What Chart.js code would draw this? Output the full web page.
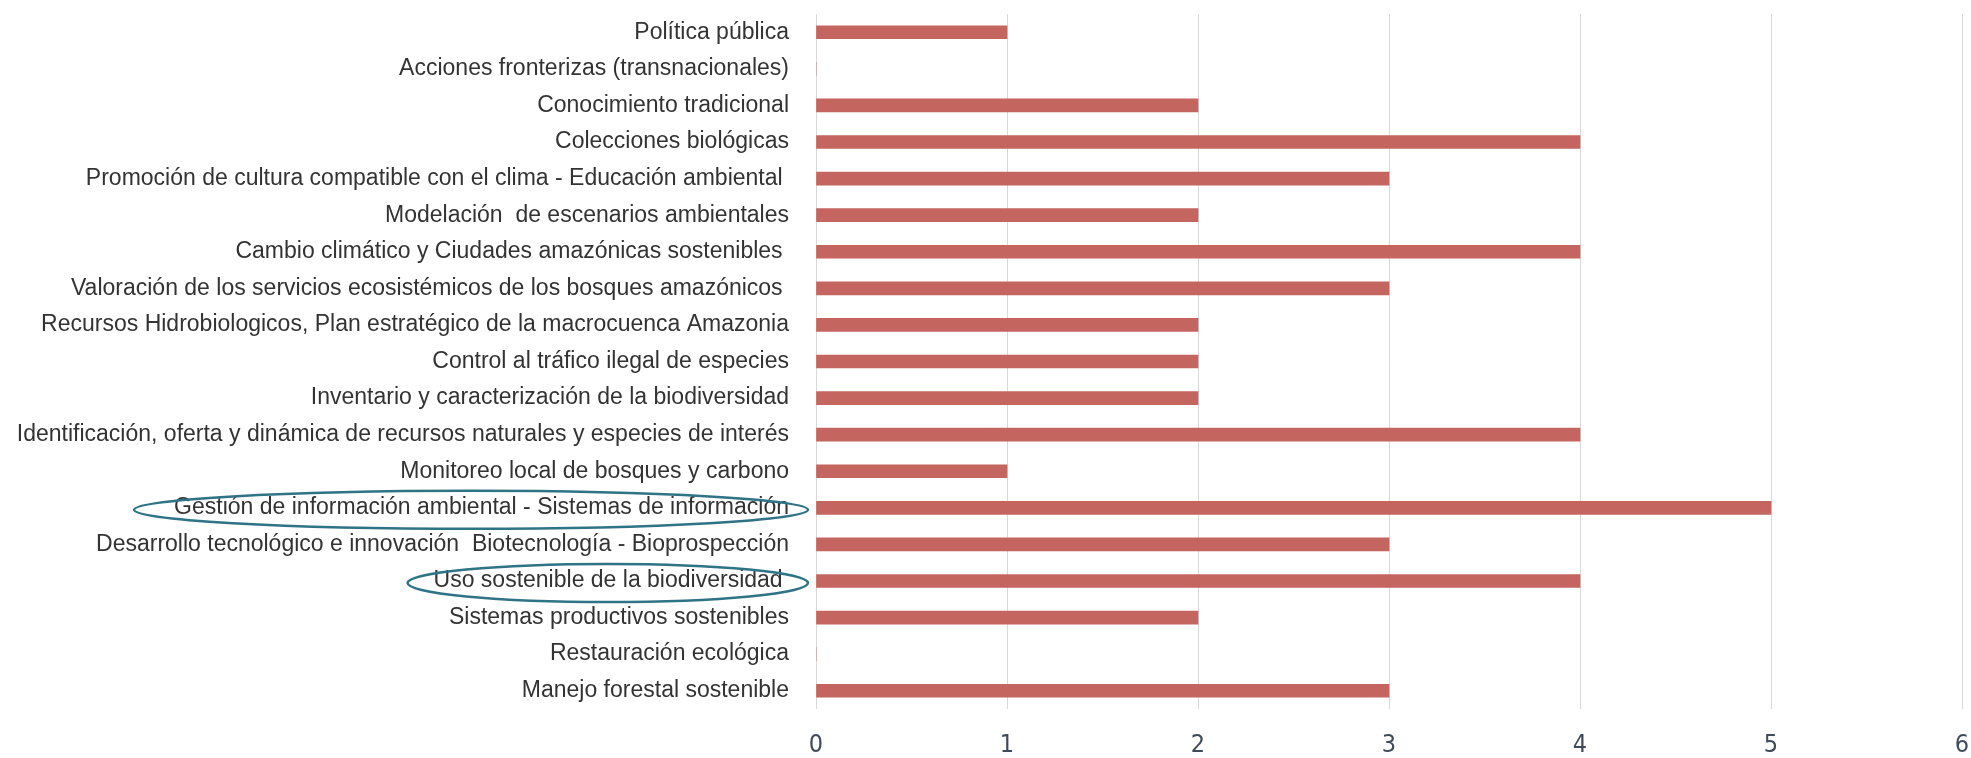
<!DOCTYPE html>
<html>
<head>
<meta charset="utf-8">
<script src="https://cdn.jsdelivr.net/npm/chart.js@4"></script>
<style>
  html, body { margin: 0; padding: 0; background: #fff; }
  canvas { display: block; }
</style>
</head>
<body>
<canvas id="chart" width="1971" height="758"></canvas>
<script>
// categories, top to bottom as in the original
const categories = [
  'Política pública',
  'Acciones fronterizas (transnacionales)',
  'Conocimiento tradicional',
  'Colecciones biológicas',
  'Promoción de cultura compatible con el clima - Educación ambiental ',
  'Modelación  de escenarios ambientales',
  'Cambio climático y Ciudades amazónicas sostenibles ',
  'Valoración de los servicios ecosistémicos de los bosques amazónicos ',
  'Recursos Hidrobiologicos, Plan estratégico de la macrocuenca Amazonia',
  'Control al tráfico ilegal de especies',
  'Inventario y caracterización de la biodiversidad',
  'Identificación, oferta y dinámica de recursos naturales y especies de interés',
  'Monitoreo local de bosques y carbono',
  'Gestión de información ambiental - Sistemas de información',
  'Desarrollo tecnológico e innovación  Biotecnología - Bioprospección',
  'Uso sostenible de la biodiversidad ',
  'Sistemas productivos sostenibles',
  'Restauración ecológica',
  'Manejo forestal sostenible'
];
const values = [1, 0, 2, 4, 3, 2, 4, 3, 2, 2, 2, 4, 1, 5, 3, 4, 2, 0, 3];

const xMin = 0;
const xMax = 6;

// labels circled in the original
const circled = [
  'Gestión de información ambiental - Sistemas de información',
  'Uso sostenible de la biodiversidad '
];

const labelFont = { family: "'Liberation Sans', Arial, sans-serif", size: 23 };
const labelPad = 27;

// draws the hand-drawn ellipses around the circled labels
const circlePlugin = {
  id: 'circles',
  afterDraw(chart) {
    const ctx = chart.ctx;
    const y = chart.scales.y;
    ctx.save();
    ctx.font = labelFont.size + 'px ' + labelFont.family;
    ctx.strokeStyle = '#2f7386';
    ctx.lineWidth = 2.5;
    circled.forEach(function(label, k) {
      const i = categories.indexOf(label);
      const cy = y.getPixelForValue(i) + 2;
      const textRight = y.right - labelPad;
      const textLeft = textRight - ctx.measureText(label).width;
      const left = textLeft - (k === 0 ? 40 : 26);
      const right = y.right - 8;
      ctx.beginPath();
      ctx.ellipse((left + right) / 2, cy, (right - left) / 2, 19, 0, 0, Math.PI * 2);
      ctx.stroke();
    });
    ctx.restore();
  }
};

function noPadding(scale) {
  scale.paddingTop = 0;
  scale.paddingBottom = 0;
  scale.paddingLeft = 0;
  scale.paddingRight = 0;
}

new Chart(document.getElementById('chart'), {
  type: 'bar',
  data: {
    labels: categories,
    datasets: [{
      data: values,
      backgroundColor: '#c5655f',
      borderWidth: 0,
      barThickness: 13
    }]
  },
  options: {
    indexAxis: 'y',
    responsive: false,
    devicePixelRatio: 1,
    animation: false,
    layout: { padding: { top: 14, right: 9, left: 0, bottom: 0 } },
    plugins: {
      legend: { display: false },
      tooltip: { enabled: false }
    },
    scales: {
      x: {
        min: xMin,
        max: xMax,
        ticks: {
          stepSize: 1,
          color: '#404b5a',
          padding: 21,
          font: { family: "'Liberation Sans Narrow', 'DejaVu Sans Condensed', sans-serif", size: 25 }
        },
        grid: { color: '#d9d9d9', lineWidth: 1, drawTicks: false },
        border: { display: false },
        afterFit: function(scale) { scale.height = 49; noPadding(scale); }
      },
      y: {
        ticks: {
          color: '#333333',
          padding: labelPad,
          autoSkip: false,
          font: labelFont
        },
        grid: { display: false, drawTicks: false },
        border: { display: false },
        afterFit: function(scale) { scale.width = 816; noPadding(scale); }
      }
    }
  },
  plugins: [circlePlugin]
});
</script>
</body>
</html>
